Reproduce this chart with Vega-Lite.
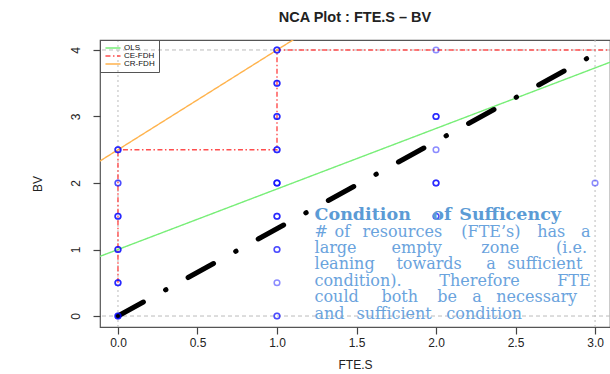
{
  "$schema": "https://vega.github.io/schema/vega-lite/v6.json",
  "width": 510,
  "height": 287,
  "autosize": "none",
  "padding": {"left": 100, "top": 40, "right": 0, "bottom": 47},
  "background": "white",
  "title": {"text": "NCA Plot : FTE.S – BV", "font": "Liberation Sans", "fontSize": 14.5, "fontWeight": "bold", "offset": 14, "color": "#222"},
  "config": {
    "view": {"stroke": "#555", "strokeWidth": 1.2},
    "axis": {"grid": false, "domain": false, "tickSize": 7, "tickColor": "#444", "tickWidth": 1.2, "labelFont": "Liberation Sans", "labelFontSize": 12, "labelColor": "#222", "titleFont": "Liberation Sans", "titleFontSize": 12, "titleFontWeight": "normal", "titleColor": "#222"},
    "axisY": {"labelAngle": -90, "labelAlign": "center", "labelBaseline": "middle", "labelPadding": 18, "titleAngle": -90, "titleX": -63, "titleY": 143.5, "titleAlign": "center", "titleBaseline": "middle"},
    "axisX": {"labelPadding": 3, "titleY": 37, "titleBaseline": "middle"}
  },
  "datasets": {
    "obs": [
      {"FTE_S": 0, "BV": 0}, {"FTE_S": 0, "BV": 0}, {"FTE_S": 0, "BV": 0},
      {"FTE_S": 0, "BV": 0.5}, {"FTE_S": 0, "BV": 0.5}, {"FTE_S": 0, "BV": 0.5},
      {"FTE_S": 0, "BV": 1}, {"FTE_S": 0, "BV": 1}, {"FTE_S": 0, "BV": 1},
      {"FTE_S": 0, "BV": 1.5}, {"FTE_S": 0, "BV": 1.5}, {"FTE_S": 0, "BV": 1.5},
      {"FTE_S": 0, "BV": 2}, {"FTE_S": 0, "BV": 2},
      {"FTE_S": 0, "BV": 2.5}, {"FTE_S": 0, "BV": 2.5}, {"FTE_S": 0, "BV": 2.5},
      {"FTE_S": 1, "BV": 0}, {"FTE_S": 1, "BV": 0},
      {"FTE_S": 1, "BV": 0.5},
      {"FTE_S": 1, "BV": 1}, {"FTE_S": 1, "BV": 1},
      {"FTE_S": 1, "BV": 1.5}, {"FTE_S": 1, "BV": 1.5}, {"FTE_S": 1, "BV": 1.5},
      {"FTE_S": 1, "BV": 2}, {"FTE_S": 1, "BV": 2}, {"FTE_S": 1, "BV": 2}, {"FTE_S": 1, "BV": 2},
      {"FTE_S": 1, "BV": 2.5}, {"FTE_S": 1, "BV": 2.5}, {"FTE_S": 1, "BV": 2.5},
      {"FTE_S": 1, "BV": 3}, {"FTE_S": 1, "BV": 3}, {"FTE_S": 1, "BV": 3},
      {"FTE_S": 1, "BV": 3.5}, {"FTE_S": 1, "BV": 3.5}, {"FTE_S": 1, "BV": 3.5},
      {"FTE_S": 1, "BV": 4}, {"FTE_S": 1, "BV": 4}, {"FTE_S": 1, "BV": 4},
      {"FTE_S": 2, "BV": 1.5}, {"FTE_S": 2, "BV": 1.5},
      {"FTE_S": 2, "BV": 2}, {"FTE_S": 2, "BV": 2}, {"FTE_S": 2, "BV": 2},
      {"FTE_S": 2, "BV": 2.5},
      {"FTE_S": 2, "BV": 3}, {"FTE_S": 2, "BV": 3}, {"FTE_S": 2, "BV": 3},
      {"FTE_S": 2, "BV": 4},
      {"FTE_S": 3, "BV": 2}
    ],
    "ceilings": [
      {"series": "OLS", "ord": 1, "x": -0.12, "y": 0.891},
      {"series": "OLS", "ord": 2, "x": 3.1, "y": 3.821},
      {"series": "CE-FDH", "ord": 1, "x": 0, "y": 0.5},
      {"series": "CE-FDH", "ord": 2, "x": 0, "y": 2.5},
      {"series": "CE-FDH", "ord": 3, "x": 1, "y": 2.5},
      {"series": "CE-FDH", "ord": 4, "x": 1, "y": 4},
      {"series": "CE-FDH", "ord": 5, "x": 3.1, "y": 4},
      {"series": "CR-FDH", "ord": 1, "x": -0.12, "y": 2.32},
      {"series": "CR-FDH", "ord": 2, "x": 1.12, "y": 4.18}
    ],
    "diag": [
      {"x": 0, "y": 0},
      {"x": 2.97, "y": 3.9}
    ],
    "vref": [{"x": 0}, {"x": 3}],
    "href": [{"y": 0}, {"y": 4}],
    "heading": [
      {"x": 1.236, "y": 1.519, "t": "Condition"},
      {"x": 1.977, "y": 1.519, "t": "of"},
      {"x": 2.146, "y": 1.519, "t": "Sufficency"}
    ],
    "body": [
      {"x": 1.236, "y": 1.263, "t": "#"},
      {"x": 1.362, "y": 1.263, "t": "of"},
      {"x": 1.538, "y": 1.263, "t": "resources"},
      {"x": 2.159, "y": 1.263, "t": "(FTE’s)"},
      {"x": 2.636, "y": 1.263, "t": "has"},
      {"x": 2.912, "y": 1.263, "t": "a"},
      {"x": 1.236, "y": 1.023, "t": "large"},
      {"x": 1.72, "y": 1.023, "t": "empty"},
      {"x": 2.285, "y": 1.023, "t": "zone"},
      {"x": 2.755, "y": 1.023, "t": "(i.e."},
      {"x": 1.236, "y": 0.782, "t": "leaning"},
      {"x": 1.751, "y": 0.782, "t": "towards"},
      {"x": 2.316, "y": 0.782, "t": "a"},
      {"x": 2.448, "y": 0.782, "t": "sufficient"},
      {"x": 1.236, "y": 0.526, "t": "condition)."},
      {"x": 2.021, "y": 0.526, "t": "Therefore"},
      {"x": 2.762, "y": 0.526, "t": "FTE"},
      {"x": 1.236, "y": 0.286, "t": "could"},
      {"x": 1.657, "y": 0.286, "t": "both"},
      {"x": 2.008, "y": 0.286, "t": "be"},
      {"x": 2.228, "y": 0.286, "t": "a"},
      {"x": 2.379, "y": 0.286, "t": "necessary"},
      {"x": 1.236, "y": 0.03, "t": "and"},
      {"x": 1.5, "y": 0.03, "t": "sufficient"},
      {"x": 2.065, "y": 0.03, "t": "condition"}
    ]
  },
  "layer": [
    {
      "data": {"name": "vref"},
      "mark": {"type": "rule", "color": "#bbbbbb", "strokeDash": [2, 3], "strokeWidth": 1},
      "encoding": {"x": {"field": "x", "type": "quantitative", "scale": {"domain": [-0.113, 3.094], "nice": false, "zero": false}, "axis": {"values": [0, 0.5, 1, 1.5, 2, 2.5, 3], "format": ".1f", "title": "FTE.S"}}}
    },
    {
      "data": {"name": "href"},
      "mark": {"type": "rule", "color": "#bbbbbb", "strokeDash": [4, 3], "strokeWidth": 1},
      "encoding": {"y": {"field": "y", "type": "quantitative", "scale": {"domain": [-0.165, 4.15], "nice": false, "zero": false}, "axis": {"values": [0, 1, 2, 3, 4], "format": "d", "title": "BV"}}}
    },
    {
      "data": {"name": "ceilings"},
      "mark": {"type": "line", "strokeWidth": 1.4, "clip": true},
      "encoding": {
        "x": {"field": "x", "type": "quantitative"},
        "y": {"field": "y", "type": "quantitative"},
        "order": {"field": "ord", "type": "quantitative"},
        "color": {"field": "series", "type": "nominal", "scale": {"domain": ["OLS", "CE-FDH", "CR-FDH"], "range": ["#77ee77", "#ff4d4d", "#ffb34d"]},
          "legend": {"title": null, "orient": "none", "legendX": 0, "legendY": 0, "symbolType": "M-2.75,0H2.75", "symbolSize": 30, "symbolStrokeWidth": 1.5, "symbolOffset": 5, "labelFont": "Liberation Sans", "labelFontSize": 8, "labelColor": "#111", "rowPadding": 0, "labelOffset": 7, "padding": 4, "strokeColor": "#555"}},
        "strokeDash": {"field": "series", "type": "nominal", "scale": {"domain": ["OLS", "CE-FDH", "CR-FDH"], "range": [[1, 0], [5, 2.5, 1.5, 2.5], [1, 0]]},
          "legend": {"title": null, "orient": "none", "legendX": 0, "legendY": 0, "symbolType": "M-2.75,0H2.75", "symbolSize": 30, "symbolStrokeWidth": 1.5, "symbolOffset": 5, "labelFont": "Liberation Sans", "labelFontSize": 8, "labelColor": "#111", "rowPadding": 0, "labelOffset": 7, "padding": 4, "strokeColor": "#555"}}
      }
    },
    {
      "data": {"name": "diag"},
      "mark": {"type": "line", "color": "black", "strokeWidth": 5, "strokeCap": "round", "strokeDash": [29, 25.3, 0.4, 25.3]},
      "encoding": {"x": {"field": "x", "type": "quantitative"}, "y": {"field": "y", "type": "quantitative"}}
    },
    {
      "data": {"name": "obs"},
      "mark": {"type": "point", "shape": "circle", "filled": false, "color": "#0000ff", "opacity": 0.45, "size": 32, "strokeWidth": 1.5},
      "encoding": {"x": {"field": "FTE_S", "type": "quantitative"}, "y": {"field": "BV", "type": "quantitative"}}
    },
    {
      "data": {"name": "heading"},
      "mark": {"type": "text", "align": "left", "baseline": "middle", "font": "DejaVu Serif", "fontWeight": "bold", "fontSize": 17.5, "color": "#5b9bd5"},
      "encoding": {"x": {"field": "x", "type": "quantitative"}, "y": {"field": "y", "type": "quantitative"}, "text": {"field": "t"}}
    },
    {
      "data": {"name": "body"},
      "mark": {"type": "text", "align": "left", "baseline": "middle", "font": "DejaVu Serif", "fontSize": 16, "color": "#6aa3dd"},
      "encoding": {"x": {"field": "x", "type": "quantitative"}, "y": {"field": "y", "type": "quantitative"}, "text": {"field": "t"}}
    }
  ]
}
